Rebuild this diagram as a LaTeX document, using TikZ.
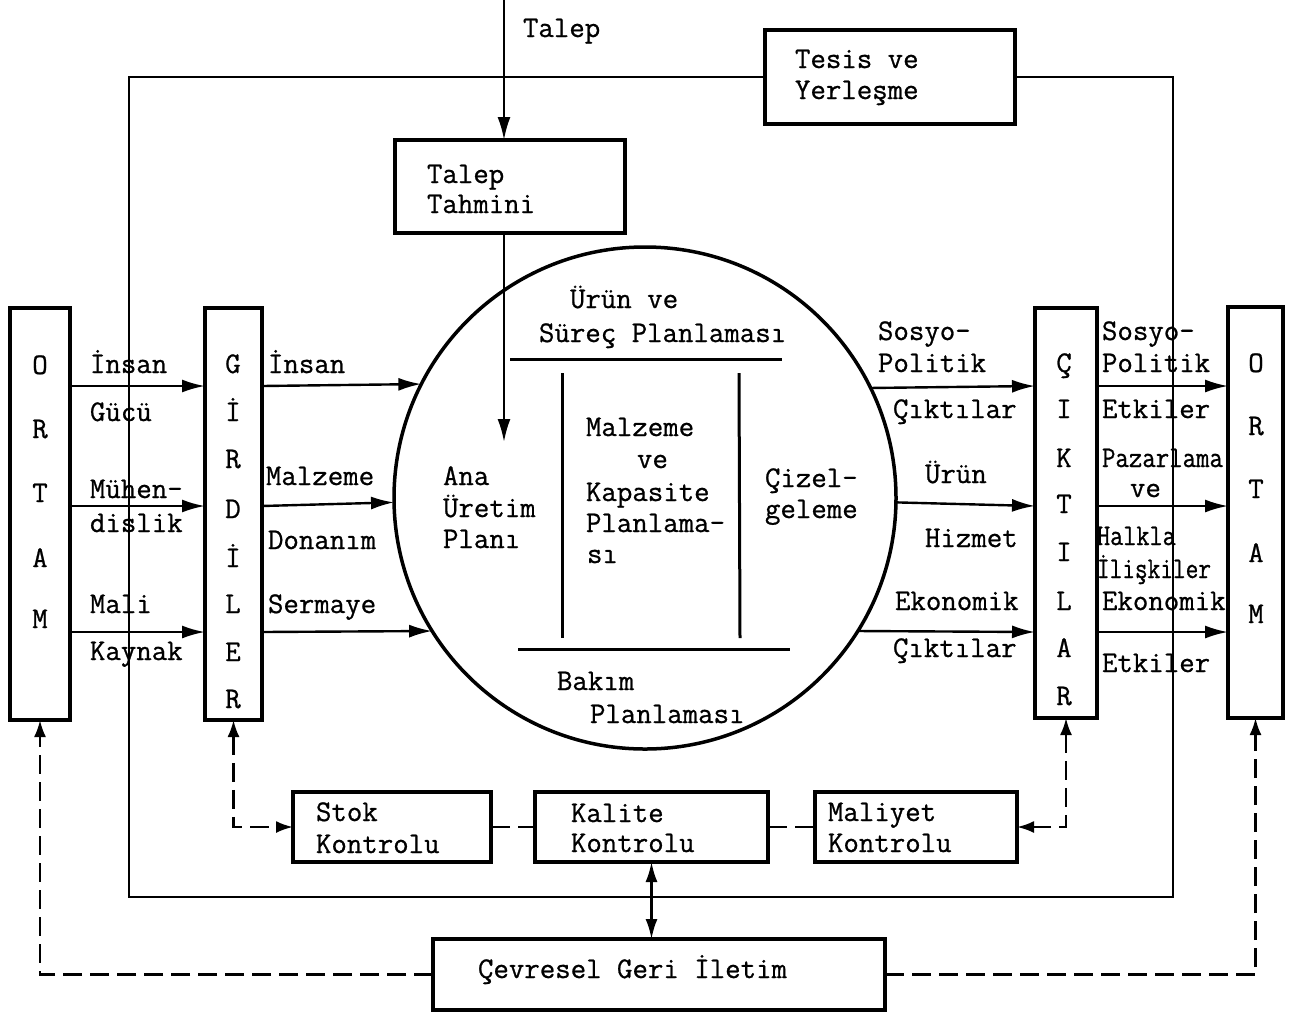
\documentclass[tikz,border=0pt]{standalone}
\usepackage{fontspec}
\newfontfamily\twfont{Latin Modern Mono}[FakeBold=0.8]
\usetikzlibrary{arrows.meta}
\tikzset{
  boxnode/.style={draw, line width=3.2pt, inner sep=0pt, outer sep=0pt, anchor=north west, fill=white},
  txt/.style={inner sep=0pt, outer sep=0pt, anchor=base west},
  let/.style={inner sep=0pt, outer sep=0pt, anchor=base},
  arr/.style={line width=2.4pt, -{Latex[length=23pt,width=13pt]}},
  darr/.style={line width=2.4pt, dash pattern=on 19pt off 8pt, {Latex[length=17pt,width=12pt]}-{Latex[length=17pt,width=12pt]}},
  dline/.style={line width=2.4pt, dash pattern=on 19pt off 8pt},
  uarr/.style={line width=2.4pt, dash pattern=on 19pt off 8pt, -{Latex[length=17pt,width=12pt]}},
  barr/.style={line width=2.4pt, {Latex[length=20pt,width=12pt]}-{Latex[length=20pt,width=12pt]}},
  inner line/.style={line width=3pt}
}
\begin{document}
\begin{tikzpicture}[x=1pt,y=-1pt,font=\fontsize{30}{32}\selectfont\twfont]
\useasboundingbox (0,0) rectangle (1290,1013);
\fill[white] (0,0) rectangle (1290,1013);

% outer frame
\draw[line width=2.4pt] (129,77) rectangle (1173,897);

% boxes
\node[boxnode, minimum width=60pt, minimum height=412pt] (ortamL) at (10,308) {};
\node[boxnode, minimum width=57pt, minimum height=412pt] (gird) at (205,308) {};
\node[boxnode, minimum width=62pt, minimum height=410pt] (cikt) at (1035,308) {};
\node[boxnode, minimum width=55pt, minimum height=411pt] (ortamR) at (1228,307) {};
\node[boxnode, minimum width=230pt, minimum height=93pt] (talepT) at (395,140) {};
\node[boxnode, minimum width=250pt, minimum height=94pt] (tesis) at (765,30) {};
\node[boxnode, minimum width=198pt, minimum height=70pt] (stok) at (293,792) {};
\node[boxnode, minimum width=233pt, minimum height=70pt] (kalite) at (535,792) {};
\node[boxnode, minimum width=202pt, minimum height=70pt] (maliyet) at (815,792) {};
\node[boxnode, minimum width=452pt, minimum height=71pt] (cevre) at (433,939) {};

% circle
\node[draw, circle, line width=3.5pt, minimum size=502pt, inner sep=0pt, outer sep=0pt] (circ) at (645,498) {};
\draw[inner line] (510,359) -- (782,359);
\draw[inner line] (562,373) -- (562,638);
\draw[inner line] (739,373) -- (740,638);
\draw[inner line] (518,649) -- (790,649);

% level coordinates
\coordinate (y1) at (0,386);
\coordinate (y2) at (0,506);
\coordinate (y3) at (0,632);
\coordinate (talepTop) at (504,0);
\coordinate (anaTip) at (504,442);

% Talep arrows
\draw[arr] (talepTop) -- (talepTop |- talepT.north);
\draw[arr] (talepTop |- talepT.south) -- (anaTip);

% left arrows
\draw[arr] (ortamL.east |- y1) -- (gird.west |- y1);
\draw[arr] (ortamL.east |- y2) -- (gird.west |- y2);
\draw[arr] (ortamL.east |- y3) -- (gird.west |- y3);
\draw[arr] (gird.east |- y1) -- (circ.153.5);
\draw[arr] (gird.east |- y2) -- (circ.181.8);
\draw[arr] (gird.east |- y3) -- (circ.212.3);

% right arrows
\draw[arr] (circ.26.5) -- (cikt.west |- y1);
\draw[arr] (circ.-1.8) -- (cikt.west |- y2);
\draw[arr] (circ.-32.3) -- (cikt.west |- y3);
\draw[arr] (cikt.east |- y1) -- (ortamR.west |- y1);
\draw[arr] (cikt.east |- y2) -- (ortamR.west |- y2);
\draw[arr] (cikt.east |- y3) -- (ortamR.west |- y3);

% bottom connectors
\draw[darr] (gird.south) |- (stok.west);
\draw[darr] (cikt.south) |- (maliyet.east);
\draw[dline] (stok.east) -- (kalite.west |- stok.east);
\draw[dline] (kalite.east) -- (maliyet.west |- kalite.east);
\draw[barr] (kalite.south) -- (kalite.south |- cevre.north);
\draw[uarr] (cevre.west) -| (ortamL.south);
\draw[uarr] (cevre.east) -| (ortamR.south);

% texts top
\node[txt] (tTalep) at (523,37) {Talep};
\node[txt] (tTT1) at (427,183) {Talep};
\node[txt] (tTT2) at (427,213) {Tahmini};
\node[txt] (tTes1) at (795,68) {Tesis ve};
\node[txt] (tTes2) at (795,99) {Yerleşme};

% vertical letters
\foreach \l/\yy [count=\i] in {O/374,R/438,T/502,A/567,M/628}
  \node[let] (oL\i) at (40,\yy) {\l};
\foreach \l/\yy [count=\i] in {G/373,İ/421,R/468,D/518,İ/567,L/613,E/661,R/708}
  \node[let] (gL\i) at (233,\yy) {\l};
\foreach \l/\yy [count=\i] in {Ç/372,I/418,K/467,T/513,I/561,L/610,A/657,R/705}
  \node[let] (cL\i) at (1064,\yy) {\l};
\foreach \l/\yy [count=\i] in {O/372,R/435,T/498,A/562,M/623}
  \node[let] (oR\i) at (1256,\yy) {\l};

% left labels
\node[txt] (l1) at (90,373) {İnsan};
\node[txt] (l2) at (90,421) {Gücü};
\node[txt] (l3) at (90,498) {Mühen-};
\node[txt] (l4) at (90,532) {dislik};
\node[txt] (l5) at (90,613) {Mali};
\node[txt] (l6) at (90,660) {Kaynak};
\node[txt] (m1) at (268,373) {İnsan};
\node[txt] (m2) at (266,485) {Malzeme};
\node[txt] (m3) at (268,549) {Donanım};
\node[txt] (m4) at (268,613) {Sermaye};

% circle texts
\node[txt] (c1) at (570,308) {Ürün ve};
\node[txt] (c2) at (539,342) {Süreç Planlaması};
\node[txt] (c3) at (443,485) {Ana};
\node[txt] (c4) at (443,517) {Üretim};
\node[txt] (c5) at (443,548) {Planı};
\node[txt] (c6) at (586,436) {Malzeme};
\node[txt] (c7) at (637,468) {ve};
\node[txt] (c8) at (586,501) {Kapasite};
\node[txt] (c9) at (586,532) {Planlama-};
\node[txt] (c10) at (587,563) {sı};
\node[txt] (c11) at (765,487) {Çizel-};
\node[txt] (c12) at (765,518) {geleme};
\node[txt] (c13) at (557,690) {Bakım};
\node[txt] (c14) at (590,723) {Planlaması};

% right labels
\node[txt] (r1) at (878,340) {Sosyo-};
\node[txt] (r2) at (878,372) {Politik};
\node[txt] (r3) at (893,418) {Çıktılar};
\node[txt] (r4) at (925,483) {Ürün};
\node[txt] (r5) at (925,547) {Hizmet};
\node[txt] (r6) at (895,610) {Ekonomik};
\node[txt] (r7) at (893,657) {Çıktılar};
\node[txt] (s1) at (1102,340) {Sosyo-};
\node[txt] (s2) at (1102,372) {Politik};
\node[txt] (s3) at (1102,418) {Etkiler};
\node[txt] (s4) at (1102,467) {\scalebox{0.87}[1]{Pazarlama}};
\node[txt] (s5) at (1130,497) {ve};
\node[txt] (s6) at (1097,545) {\scalebox{0.85}[1]{Halkla}};
\node[txt] (s7) at (1097,578) {\scalebox{0.82}[1]{İlişkiler}};
\node[txt] (s8) at (1102,610) {Ekonomik};
\node[txt] (s9) at (1102,672) {Etkiler};

% bottom texts
\node[txt] (b1) at (316,821) {Stok};
\node[txt] (b2) at (316,853) {Kontrolu};
\node[txt] (b3) at (571,822) {Kalite};
\node[txt] (b4) at (571,852) {Kontrolu};
\node[txt] (b5) at (828,821) {Maliyet};
\node[txt] (b6) at (828,852) {Kontrolu};
\node[txt] (b7) at (478,978) {Çevresel Geri İletim};
\end{tikzpicture}
\end{document}
